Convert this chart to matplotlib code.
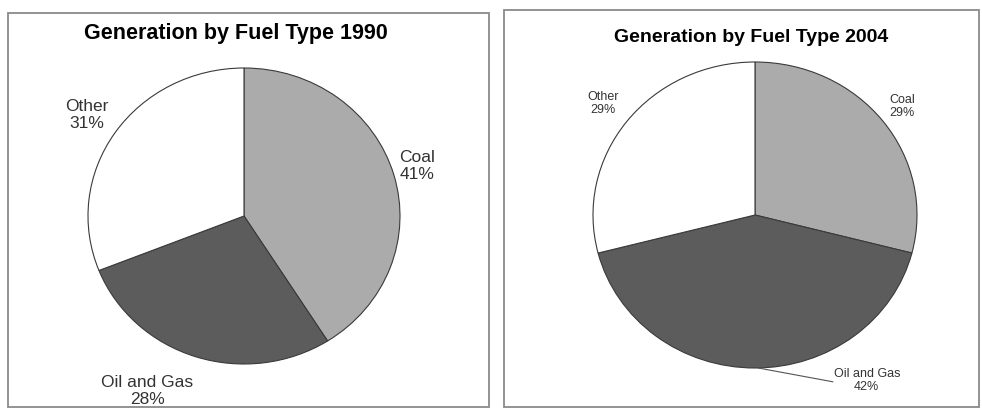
import matplotlib
matplotlib.use('Agg')
import matplotlib.pyplot as plt
from matplotlib.patches import Rectangle

plt.rcParams['font.family'] = ['Liberation Sans', 'DejaVu Sans']

# Data
fuels = ['Coal', 'Oil and Gas', 'Other']
shares_1990 = [41, 28, 31]
shares_2004 = [29, 42, 29]
fuel_colors = ['#ababab', '#5c5c5c', '#ffffff']

W, H = 982, 409

fig = plt.figure(figsize=(W / 100, H / 100), dpi=100)


def px_box(x0, y0, x1, y1):
    # pixel box (top-down) -> figure fraction [l, b, w, h]
    return [x0 / W, 1 - y1 / H, (x1 - x0) / W, (y1 - y0) / H]


def draw_panel(shares, title, frame, title_xy, title_size, center, rx, ry,
               label_pos, label_size, leader=None):
    # panel frame
    fx0, fy0, fx1, fy1 = frame
    fig.patches.append(Rectangle((fx0 / W, 1 - fy1 / H), (fx1 - fx0) / W, (fy1 - fy0) / H,
                                 transform=fig.transFigure, fill=False,
                                 edgecolor='#8a8a8a', linewidth=1.3))
    fig.text(title_xy[0] / W, 1 - title_xy[1] / H, title, ha='center', va='center',
             fontsize=title_size, fontweight='bold')

    cx, cy = center
    ax = fig.add_axes(px_box(cx - rx, cy - ry, cx + rx, cy + ry))
    ax.pie(shares, colors=fuel_colors, startangle=90, counterclock=False, radius=1,
           wedgeprops=dict(edgecolor='#3a3a3a', linewidth=0.8))
    ax.set_aspect('auto')
    ax.set_xlim(-1, 1)
    ax.set_ylim(-1, 1)
    for name, val, (lx, ly) in zip(fuels, shares, label_pos):
        ax.text(lx, ly, f'{name}\n{val}%', ha='center', va='center',
                fontsize=label_size, color='#333333', linespacing=1.15,
                clip_on=False)
    if leader is not None:
        ax.plot(leader[0], leader[1], color='#555555', linewidth=0.8, clip_on=False)


draw_panel(shares_1990, 'Generation by Fuel Type 1990',
           frame=(8, 13, 489, 407), title_xy=(236, 33), title_size=15.5,
           center=(244, 216), rx=156, ry=148,
           label_pos=[(1.11, 0.34), (-0.62, -1.18), (-1.01, 0.68)],
           label_size=12.5)

draw_panel(shares_2004, 'Generation by Fuel Type 2004',
           frame=(504, 10, 979, 407), title_xy=(751, 38), title_size=14,
           center=(755, 215), rx=162, ry=153,
           label_pos=[(0.91, 0.71), (0.69, -1.08), (-0.94, 0.73)],
           label_size=9,
           leader=([0.02, 0.48], [-1.0, -1.09]))

fig.savefig('out.png', dpi=100)
